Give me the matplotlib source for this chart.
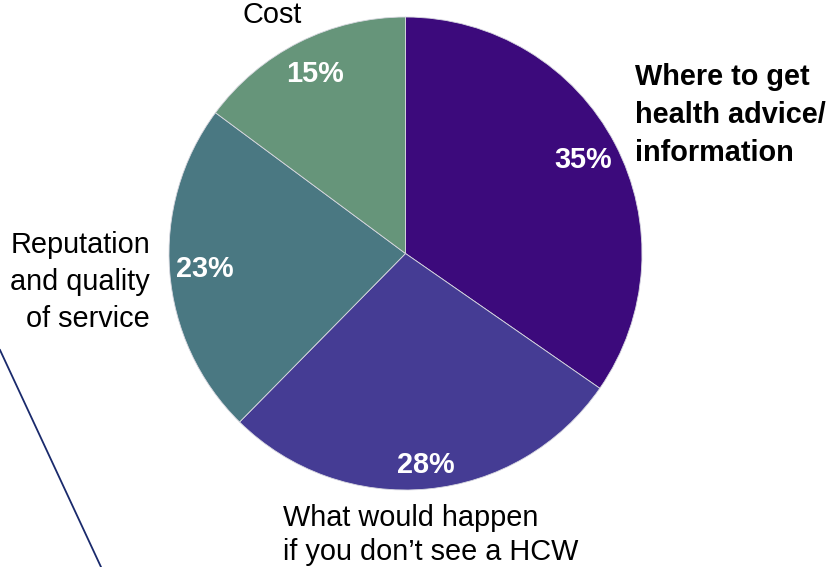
import matplotlib
matplotlib.use("Agg")
import matplotlib.pyplot as plt

plt.rcParams["font.family"] = ["Liberation Sans", "DejaVu Sans"]

labels = ["Where to get\nhealth advice/\ninformation",
          "What would happen\nif you don\u2019t see a HCW",
          "Reputation\nand quality\nof service",
          "Cost"]
shares = [35, 28, 23, 15]
colors = ["#3C0A7C", "#453C94", "#4A7882", "#66957A"]

W, H = 830, 567
fig = plt.figure(figsize=(W / 100, H / 100), dpi=100)
ax = fig.add_axes([0, 0, 1, 1])
ax.set_aspect("equal")
ax.axis("off")

fs = 20.8
cx, cy, r = 405.5, H - 253.5, 236.5
pct_iter = iter(shares)
wedges, texts, pcts = ax.pie(
    shares, colors=colors, startangle=90, counterclock=False,
    center=(cx, cy), radius=r, autopct=lambda p: f"{next(pct_iter)}%",
    pctdistance=0.85,
    wedgeprops=dict(edgecolor="#d8d8e0", linewidth=0.6),
    textprops=dict(color="white", fontsize=fs, fontweight="bold"),
)
ax.set_xlim(0, W)
ax.set_ylim(0, H)
# nudge the 28% label outward
x, y = pcts[1].get_position()
pcts[1].set_position((cx + (x - cx) * 0.9 / 0.85, cy + (y - cy) * 0.9 / 0.85))

ax.text(635, H - 63, labels[0], ha="left", va="top", fontsize=fs,
        fontweight="bold", linespacing=1.45)
ax.text(283, H - 504, labels[1], ha="left", va="top", fontsize=fs,
        linespacing=1.27)
ax.text(150, H - 231, labels[2], ha="right", va="top", fontsize=fs,
        linespacing=1.42, multialignment="right")
ax.text(272, H - 15, labels[3], ha="center", va="center", fontsize=fs)

# stray connector line at lower left
ax.plot([0, 101], [H - 350, 0], color="#1a2a6c", lw=1.3)

fig.savefig("out.png", dpi=100)
